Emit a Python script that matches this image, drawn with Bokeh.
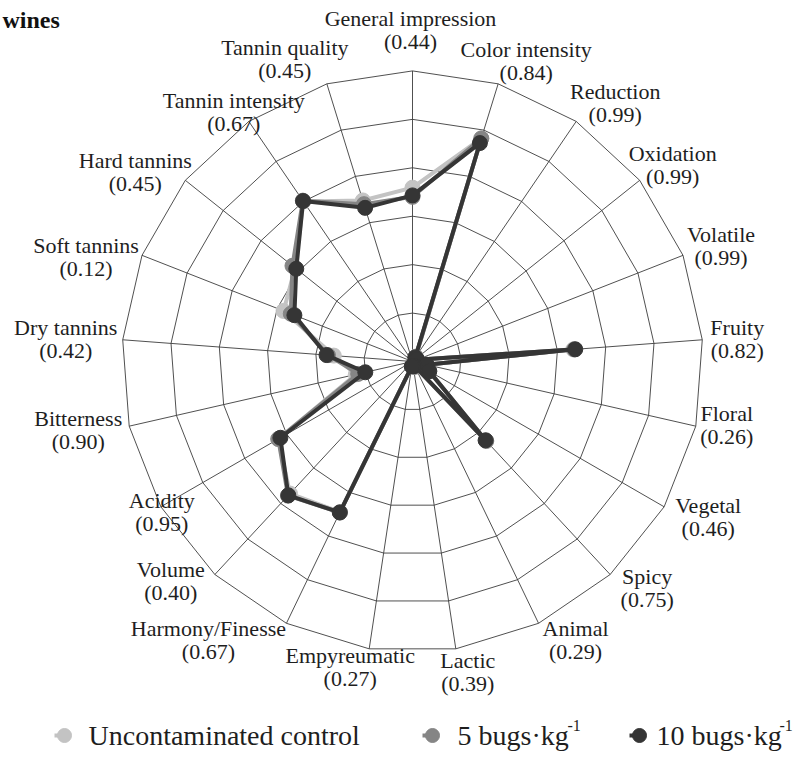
import numpy as np
from bokeh.plotting import figure
from bokeh.models import Range1d
from bokeh.core.properties import value
from bokeh.embed import file_html
from bokeh.resources import INLINE

# ---------------- data ----------------
attributes = ["General impression", "Color intensity", "Reduction", "Oxidation", "Volatile",
              "Fruity", "Floral", "Vegetal", "Spicy", "Animal", "Lactic", "Empyreumatic",
              "Harmony/Finesse", "Volume", "Acidity", "Bitterness", "Dry tannins",
              "Soft tannins", "Hard tannins", "Tannin intensity", "Tannin quality"]
p_values = ["0.44", "0.84", "0.99", "0.99", "0.99", "0.82", "0.26", "0.46", "0.75", "0.29",
            "0.39", "0.27", "0.67", "0.40", "0.95", "0.90", "0.42", "0.12", "0.45", "0.67", "0.45"]
control = [3.59, 4.82, 0.12, 0.10, 0.10, 3.33, 0.30, 0.38, 2.22, 0.12, 0.10, 0.10,
           3.45, 3.72, 3.20, 1.20, 1.63, 2.86, 3.10, 4.00, 3.48]
bugs5 = [3.40, 4.82, 0.12, 0.10, 0.10, 3.35, 0.30, 0.40, 2.24, 0.12, 0.10, 0.10,
         3.46, 3.78, 3.20, 1.15, 1.75, 2.70, 3.17, 4.02, 3.40]
bugs10 = [3.43, 4.72, 0.10, 0.10, 0.10, 3.37, 0.30, 0.40, 2.22, 0.10, 0.10, 0.10,
          3.46, 3.77, 3.15, 1.00, 1.78, 2.62, 3.07, 4.01, 3.32]
series_labels = ["Uncontaminated control", "5 bugs·kg", "10 bugs·kg"]
series_sup = ["", "-1", "-1"]
ring_levels = [1, 2, 3, 4, 5, 6]

# ---------------- layout ----------------
W, H = 795, 751
S = 48.43            # px per unit
CX, CY = 412, 361    # centre in canvas px
FONT = value("Liberation Serif")
colors = ["#c3c3c3", "#858585", "#353535"]
TXT = "#1e1e1e"

# label block offsets (px, screen: +x right, +y down) from each outer vertex
label_offsets = [(-2, -41), (28, -23), (39, -18), (33, -15), (38, -9), (35, -1), (31, -1),
                 (44, 10), (37, 13), (37, 17), (12, 23), (-19, 18), (-78, 17), (-44, 6),
                 (1, 5), (-51, 4), (-57, -1), (-56, 2), (-50, -8), (-15, -9), (-42, -25)]

def ux(px):
    return (px - CX) / S

def uy(py):
    return (CY - py) / S

p = figure(width=W, height=H, x_range=Range1d(ux(0), ux(W)), y_range=Range1d(uy(H), uy(0)),
           output_backend="svg", toolbar_location=None, min_border=0,
           x_axis_type=None, y_axis_type=None)
p.grid.visible = False
p.outline_line_color = None
p.background_fill_color = "white"
p.border_fill_color = "white"

n = len(attributes)
theta = np.arange(n) * 2 * np.pi / n
sx, sy = np.sin(theta), np.cos(theta)

# rings (polygons)
rx = [list(lv * np.append(sx, sx[0])) for lv in ring_levels]
ry = [list(lv * np.append(sy, sy[0])) for lv in ring_levels]
p.multi_line(rx, ry, line_color="#3c3c3c", line_width=0.9)
# spokes
rmax = max(ring_levels)
p.segment(x0=np.zeros(n), y0=np.zeros(n), x1=rmax * sx, y1=rmax * sy,
          line_color="#3c3c3c", line_width=0.9)

# series
for vals, c in zip([control, bugs5, bugs10], colors):
    v = np.array(vals)
    xs = np.append(v * sx, v[0] * sx[0])
    ys = np.append(v * sy, v[0] * sy[0])
    p.line(xs, ys, line_color=c, line_width=4)
    p.scatter(v * sx, v * sy, size=15, fill_color=c, line_color=c)

# category labels
lx = rmax * sx + np.array([o[0] for o in label_offsets]) / S
ly = rmax * sy - np.array([o[1] for o in label_offsets]) / S
p.text(lx, ly, text=attributes, text_font=FONT, text_font_size="22px", text_color=TXT,
       text_align="center", text_baseline="middle", y_offset=-11.5)
p.text(lx, ly, text=["(%s)" % s for s in p_values], text_font=FONT, text_font_size="22px",
       text_color=TXT, text_align="center", text_baseline="middle", y_offset=11.5)

# title fragment
p.text([ux(2)], [uy(19)], text=["wines"], text_font=FONT, text_font_size="24px",
       text_font_style="bold", text_color="#111111", text_align="left",
       text_baseline="alphabetic")

# legend
leg_y = uy(735)
leg_marker_px = [64, 432, 639]
leg_text_px = [88, 457, 656]
leg_sup_px = [None, 567, 779]
for i, c in enumerate(colors):
    mx = leg_marker_px[i]
    p.line([ux(mx - 10), ux(mx)], [leg_y, leg_y], line_color=c, line_width=4)
    p.scatter([ux(mx)], [leg_y], size=14, fill_color=c, line_color=c)
    p.text([ux(leg_text_px[i])], [leg_y], text=[series_labels[i]], text_font=FONT,
           text_font_size="28px", text_color=TXT, text_align="left",
           text_baseline="middle")
    if series_sup[i]:
        p.text([ux(leg_sup_px[i])], [leg_y], text=[series_sup[i]], text_font=FONT,
               text_font_size="16px", text_color=TXT, text_align="left",
               text_baseline="middle", y_offset=-10)

open("out.html", "w").write(file_html(p, INLINE))
